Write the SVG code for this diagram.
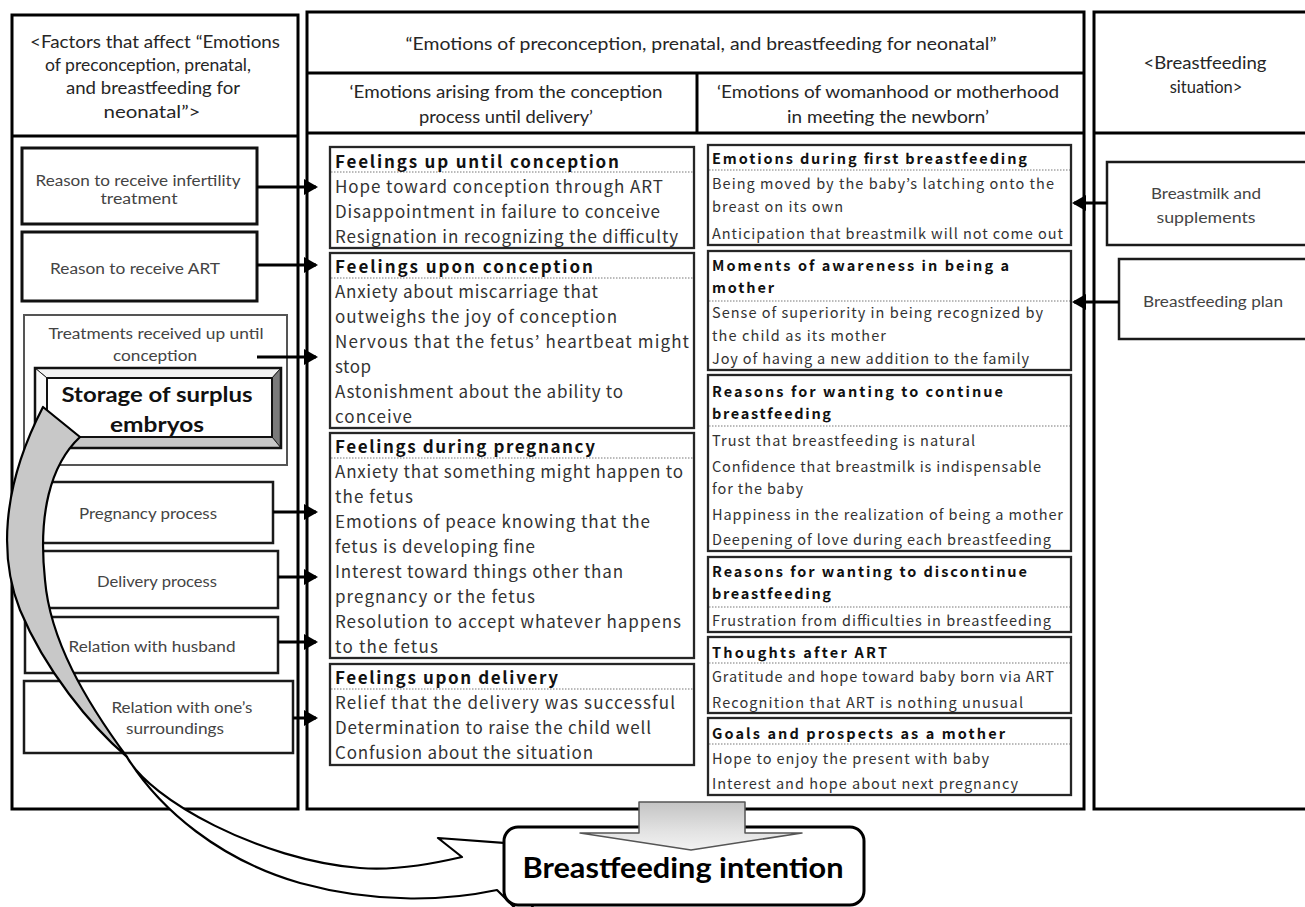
<svg xmlns="http://www.w3.org/2000/svg" width="1305" height="907" viewBox="0 0 1305 907">
<style>
.panel{fill:#fff;stroke:#000;stroke-width:3}
.ln{stroke:#000;stroke-width:3;fill:none}
.fb3{fill:#fff;stroke:#111;stroke-width:3}
.fb2{fill:#fff;stroke:#1a1a1a;stroke-width:2.5}
.fbt{fill:#fff;stroke:#555;stroke-width:2}
.eb{fill:#fff;stroke:#262626;stroke-width:2.3}
.dot{stroke:#777;stroke-width:1;stroke-dasharray:1.5 1.5}
.hd{font-family:Lato,"Liberation Sans",sans-serif;font-size:16.5px;fill:#262626;text-anchor:middle}
.lb{font-family:Lato,"Liberation Sans",sans-serif;font-size:15.5px;fill:#444;text-anchor:middle}
.sb{font-family:Lato,"Liberation Sans",sans-serif;font-size:21px;font-weight:bold;fill:#111;text-anchor:middle}
.big{font-family:Lato,"Liberation Sans",sans-serif;font-size:29px;font-weight:bold;fill:#000;text-anchor:middle}
.m18{font-family:"Noto Sans CJK JP","DejaVu Sans",sans-serif;font-size:17px;fill:#333}
.m18b{font-family:"Noto Sans CJK JP","DejaVu Sans",sans-serif;font-size:17px;font-weight:bold;fill:#111}
.m15{font-family:"Noto Sans CJK JP","DejaVu Sans",sans-serif;font-size:14.5px;fill:#333}
.m15b{font-family:"Noto Sans CJK JP","DejaVu Sans",sans-serif;font-size:14.5px;font-weight:bold;fill:#111}
.arr{stroke:#000;stroke-width:3;fill:none;marker-end:url(#ah)}
</style>
<defs>
<marker id="ah" markerUnits="userSpaceOnUse" markerWidth="14" markerHeight="16" refX="12" refY="8" orient="auto"><path d="M0,0 L14,8 L0,16 z" fill="#000"/></marker>
<linearGradient id="dg" x1="0" y1="0" x2="0" y2="1"><stop offset="0" stop-color="#c4c4c4"/><stop offset="0.6" stop-color="#e2e2e2"/><stop offset="1" stop-color="#f2f2f2"/></linearGradient>
</defs>

<!-- Panels -->
<g id="panel-left">
<rect class="panel" x="12" y="15" width="286" height="794"/>
<line class="ln" x1="12" y1="136" x2="298" y2="136"/>
<text class="hd" x="155" y="48" textLength="250" lengthAdjust="spacingAndGlyphs">&lt;Factors that affect “Emotions</text>
<text class="hd" x="148" y="71" textLength="206" lengthAdjust="spacingAndGlyphs">of preconception, prenatal,</text>
<text class="hd" x="153" y="94" textLength="174" lengthAdjust="spacingAndGlyphs">and breastfeeding for</text>
<text class="hd" x="152" y="118" textLength="97" lengthAdjust="spacingAndGlyphs">neonatal”&gt;</text>
</g>
<g id="panel-middle">
<rect class="panel" x="307" y="12" width="777" height="797"/>
<line class="ln" x1="307" y1="73" x2="1084" y2="73"/>
<line class="ln" x1="307" y1="133" x2="1084" y2="133"/>
<line class="ln" x1="697" y1="73" x2="697" y2="133"/>
<text class="hd" x="701" y="50" textLength="591" lengthAdjust="spacingAndGlyphs">“Emotions of preconception, prenatal, and breastfeeding for neonatal”</text>
<text class="hd" x="506" y="98" textLength="313" lengthAdjust="spacingAndGlyphs">‘Emotions arising from the conception</text>
<text class="hd" x="506" y="123" textLength="174" lengthAdjust="spacingAndGlyphs">process until delivery’</text>
<text class="hd" x="888" y="98" textLength="342" lengthAdjust="spacingAndGlyphs">‘Emotions of womanhood or motherhood</text>
<text class="hd" x="888" y="123" textLength="202" lengthAdjust="spacingAndGlyphs">in meeting the newborn’</text>
</g>
<g id="panel-right">
<rect class="panel" x="1094" y="12" width="220" height="797"/>
<line class="ln" x1="1094" y1="133" x2="1314" y2="133"/>
<text class="hd" x="1205" y="69" textLength="123" lengthAdjust="spacingAndGlyphs">&lt;Breastfeeding</text>
<text class="hd" x="1206" y="93">situation&gt;</text>
</g>

<!-- Left factor nodes -->
<g id="f-infertility">
<rect class="fb3" x="22" y="148" width="235" height="76"/>
<text class="lb" x="138" y="186" textLength="205" lengthAdjust="spacingAndGlyphs">Reason to receive infertility</text>
<text class="lb" x="139" y="204" textLength="77" lengthAdjust="spacingAndGlyphs">treatment</text>
</g>
<g id="f-art">
<rect class="fb3" x="22" y="232" width="235" height="69"/>
<text class="lb" x="135" y="274" textLength="170" lengthAdjust="spacingAndGlyphs">Reason to receive ART</text>
</g>
<g id="f-treatments">
<rect class="fbt" x="24" y="315" width="263" height="150"/>
<text class="lb" x="156" y="339" textLength="215" lengthAdjust="spacingAndGlyphs">Treatments received up until</text>
<text class="lb" x="155" y="361" textLength="84" lengthAdjust="spacingAndGlyphs">conception</text>
</g>
<g id="f-storage">
<polygon points="35,368 281,368 272,378 47,378" fill="#f2f2f2" stroke="#222" stroke-width="1"/>
<polygon points="35,368 47,378 47,437 35,448" fill="#fafafa" stroke="#222" stroke-width="1"/>
<polygon points="281,368 281,448 272,437 272,378" fill="#7a7a7a" stroke="#222" stroke-width="1"/>
<polygon points="35,448 281,448 272,437 47,437" fill="#c8c8c8" stroke="#222" stroke-width="1"/>
<rect x="47" y="378" width="225" height="59" fill="#fff" stroke="#111" stroke-width="2"/>
<rect x="35" y="368" width="246" height="80" fill="none" stroke="#111" stroke-width="2.5"/>
<text class="sb" x="157" y="402" textLength="191" lengthAdjust="spacingAndGlyphs">Storage of surplus</text>
<text class="sb" x="157" y="432" textLength="94" lengthAdjust="spacingAndGlyphs">embryos</text>
</g>
<g id="f-pregnancy">
<rect class="fb2" x="23" y="482" width="250" height="61"/>
<text class="lb" x="148" y="519" textLength="138" lengthAdjust="spacingAndGlyphs">Pregnancy process</text>
</g>
<g id="f-delivery">
<rect class="fb2" x="24" y="551" width="254" height="57"/>
<text class="lb" x="157" y="587" textLength="120" lengthAdjust="spacingAndGlyphs">Delivery process</text>
</g>
<g id="f-husband">
<rect class="fb2" x="25" y="617" width="253" height="56"/>
<text class="lb" x="152" y="652" textLength="167" lengthAdjust="spacingAndGlyphs">Relation with husband</text>
</g>
<g id="f-surroundings">
<rect class="fb2" x="24" y="681" width="269" height="72"/>
<text class="lb" x="182" y="713" textLength="141" lengthAdjust="spacingAndGlyphs">Relation with one’s</text>
<text class="lb" x="175" y="734" textLength="98" lengthAdjust="spacingAndGlyphs">surroundings</text>
</g>

<!-- Middle left column -->
<g id="e-until-conception">
<rect class="eb" x="330" y="147" width="364" height="101"/>
<line class="dot" x1="331" y1="172" x2="693" y2="172"/>
<text class="m18b" x="335" y="168" textLength="284">Feelings up until conception</text>
<text class="m18" x="335" y="193" textLength="328">Hope toward conception through ART</text>
<text class="m18" x="335" y="218" textLength="325">Disappointment in failure to conceive</text>
<text class="m18" x="335" y="243" textLength="343">Resignation in recognizing the difficulty</text>
</g>
<g id="e-upon-conception">
<rect class="eb" x="330" y="253" width="364" height="175"/>
<line class="dot" x1="331" y1="278" x2="693" y2="278"/>
<text class="m18b" x="335" y="273" textLength="258">Feelings upon conception</text>
<text class="m18" x="335" y="298" textLength="263">Anxiety about miscarriage that</text>
<text class="m18" x="335" y="323" textLength="282">outweighs the joy of conception</text>
<text class="m18" x="335" y="348" textLength="354">Nervous that the fetus’ heartbeat might</text>
<text class="m18" x="335" y="373" textLength="36">stop</text>
<text class="m18" x="335" y="398" textLength="288">Astonishment about the ability to</text>
<text class="m18" x="335" y="423" textLength="77">conceive</text>
</g>
<g id="e-pregnancy">
<rect class="eb" x="330" y="433" width="364" height="225"/>
<line class="dot" x1="331" y1="458" x2="693" y2="458"/>
<text class="m18b" x="335" y="453" textLength="260">Feelings during pregnancy</text>
<text class="m18" x="335" y="478" textLength="348">Anxiety that something might happen to</text>
<text class="m18" x="335" y="503" textLength="78">the fetus</text>
<text class="m18" x="335" y="528" textLength="315">Emotions of peace knowing that the</text>
<text class="m18" x="335" y="553" textLength="200">fetus is developing fine</text>
<text class="m18" x="335" y="578" textLength="288">Interest toward things other than</text>
<text class="m18" x="335" y="603" textLength="200">pregnancy or the fetus</text>
<text class="m18" x="335" y="628" textLength="346">Resolution to accept whatever happens</text>
<text class="m18" x="335" y="653" textLength="103">to the fetus</text>
</g>
<g id="e-delivery">
<rect class="eb" x="330" y="664" width="364" height="101"/>
<line class="dot" x1="331" y1="689" x2="693" y2="689"/>
<text class="m18b" x="335" y="684" textLength="223">Feelings upon delivery</text>
<text class="m18" x="335" y="709" textLength="340">Relief that the delivery was successful</text>
<text class="m18" x="335" y="734" textLength="316">Determination to raise the child well</text>
<text class="m18" x="335" y="759" textLength="258">Confusion about the situation</text>
</g>

<!-- Middle right column -->
<g id="e-first-bf">
<rect class="eb" x="708" y="145" width="363" height="100"/>
<line class="dot" x1="709" y1="170" x2="1070" y2="170"/>
<text class="m15b" x="712" y="164" textLength="315">Emotions during first breastfeeding</text>
<text class="m15" x="712" y="189" textLength="342">Being moved by the baby’s latching onto the</text>
<text class="m15" x="712" y="212" textLength="131">breast on its own</text>
<text class="m15" x="712" y="239" textLength="351">Anticipation that breastmilk will not come out</text>
</g>
<g id="e-awareness">
<rect class="eb" x="708" y="251" width="363" height="119"/>
<line class="dot" x1="709" y1="301" x2="1070" y2="301"/>
<text class="m15b" x="712" y="271" textLength="297">Moments of awareness in being a</text>
<text class="m15b" x="712" y="293" textLength="62">mother</text>
<text class="m15" x="712" y="318" textLength="331">Sense of superiority in being recognized by</text>
<text class="m15" x="712" y="341" textLength="174">the child as its mother</text>
<text class="m15" x="712" y="364" textLength="317">Joy of having a new addition to the family</text>
</g>
<g id="e-continue">
<rect class="eb" x="708" y="375" width="363" height="176"/>
<line class="dot" x1="709" y1="426" x2="1070" y2="426"/>
<text class="m15b" x="712" y="397" textLength="291">Reasons for wanting to continue</text>
<text class="m15b" x="712" y="419" textLength="119">breastfeeding</text>
<text class="m15" x="712" y="446" textLength="263">Trust that breastfeeding is natural</text>
<text class="m15" x="712" y="472" textLength="329">Confidence that breastmilk is indispensable</text>
<text class="m15" x="712" y="494" textLength="91">for the baby</text>
<text class="m15" x="712" y="520" textLength="351">Happiness in the realization of being a mother</text>
<text class="m15" x="712" y="545" textLength="339">Deepening of love during each breastfeeding</text>
</g>
<g id="e-discontinue">
<rect class="eb" x="708" y="557" width="363" height="75"/>
<line class="dot" x1="709" y1="607" x2="1070" y2="607"/>
<text class="m15b" x="712" y="577" textLength="315">Reasons for wanting to discontinue</text>
<text class="m15b" x="712" y="599" textLength="119">breastfeeding</text>
<text class="m15" x="712" y="626" textLength="339">Frustration from difficulties in breastfeeding</text>
</g>
<g id="e-after-art">
<rect class="eb" x="708" y="637" width="363" height="76"/>
<line class="dot" x1="709" y1="663" x2="1070" y2="663"/>
<text class="m15b" x="712" y="658" textLength="175">Thoughts after ART</text>
<text class="m15" x="712" y="682" textLength="342">Gratitude and hope toward baby born via ART</text>
<text class="m15" x="712" y="708" textLength="311">Recognition that ART is nothing unusual</text>
</g>
<g id="e-goals">
<rect class="eb" x="708" y="718" width="363" height="77"/>
<line class="dot" x1="709" y1="744" x2="1070" y2="744"/>
<text class="m15b" x="712" y="739" textLength="293">Goals and prospects as a mother</text>
<text class="m15" x="712" y="764" textLength="277">Hope to enjoy the present with baby</text>
<text class="m15" x="712" y="789" textLength="306">Interest and hope about next pregnancy</text>
</g>

<!-- Right situation nodes -->
<g id="s-breastmilk">
<rect class="fb2" x="1107" y="162" width="210" height="83"/>
<text class="lb" x="1206" y="199" textLength="110" lengthAdjust="spacingAndGlyphs">Breastmilk and</text>
<text class="lb" x="1206" y="223" textLength="99" lengthAdjust="spacingAndGlyphs">supplements</text>
</g>
<g id="s-plan">
<rect class="fb2" x="1119" y="259" width="200" height="80"/>
<text class="lb" x="1213" y="307" textLength="140" lengthAdjust="spacingAndGlyphs">Breastfeeding plan</text>
</g>

<!-- Connectors -->
<g id="connectors">
<line class="arr" x1="257" y1="187" x2="316" y2="187"/>
<line class="arr" x1="257" y1="265" x2="316" y2="265"/>
<line class="arr" x1="257" y1="357" x2="316" y2="357"/>
<line class="arr" x1="273" y1="512" x2="316" y2="512"/>
<line class="arr" x1="278" y1="577" x2="316" y2="577"/>
<line class="arr" x1="278" y1="642" x2="316" y2="642"/>
<line class="arr" x1="293" y1="718" x2="316" y2="718"/>
<line class="arr" x1="1107" y1="203" x2="1074" y2="203"/>
<line class="arr" x1="1119" y1="302" x2="1074" y2="302"/>
<path d="M43,407 L80,437 C50,465 38,515 45,580 C50,640 85,700 127,757 C90,725 45,670 20,610 C0,560 0,490 43,407 Z" fill="#c8c8c8" stroke="#000" stroke-width="2.2" stroke-linejoin="round"/>
<path d="M127,757 C150,800 260,860 360,868 C400,871 440,862 462,857 L438,838 L570,848 L525,918 L497,890 C450,900 380,905 300,883 C220,860 160,810 127,757 Z" fill="#fff" stroke="#000" stroke-width="2.2" stroke-linejoin="round"/>
</g>

<g id="n-intention">
<rect x="504" y="827" width="360" height="78" rx="14" ry="14" fill="#fff" stroke="#000" stroke-width="3"/>
<text class="big" x="683" y="878" textLength="321" lengthAdjust="spacingAndGlyphs">Breastfeeding intention</text>
</g>

<g id="block-arrow">
<path d="M639,802 L745,802 L745,833 L802,833 L691,850 L580,833 L639,833 Z" fill="url(#dg)" stroke="#555" stroke-width="1.5" stroke-linejoin="round"/>
</g>
</svg>
